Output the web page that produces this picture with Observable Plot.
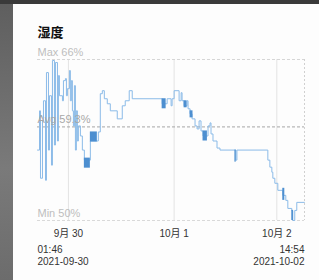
<!DOCTYPE html>
<html>
<head>
<meta charset="utf-8">
<script src="https://cdn.jsdelivr.net/npm/d3@7"></script>
<script src="https://cdn.jsdelivr.net/npm/@observablehq/plot@0.6"></script>
<style>
  html, body { margin: 0; padding: 0; background: #fdfdfd; width: 319px; height: 280px; overflow: hidden; }
  #wrap { position: relative; width: 319px; height: 280px; }
  #side { position: absolute; left: 0; top: 0; width: 13px; height: 280px; background: linear-gradient(#5e5e5e, #7a7a7a 60%, #6c6c6c); }
  #topbar { position: absolute; left: 0; top: 0; width: 319px; height: 4px; background: #3a3a3a; }
  #chart { position: absolute; left: 0; top: 0; }
</style>
</head>
<body>
<div id="wrap"><div id="side"></div><div id="topbar"></div><div id="chart"></div></div>
<script>
// Humidity (%) vs hours since 2021-09-30 01:46
const hours = [0,0.46,0.68,1.14,1.37,1.83,2.05,2.51,2.74,3.2,3.42,3.88,4.11,4.57,4.79,5.02,5.71,5.94,6.39,6.62,6.85,7.31,7.53,7.76,7.99,8.22,8.45,8.68,8.9,9.13,9.36,9.82,10.27,10.73,12.1,13.93,14.38,14.84,15.3,15.98,16.67,18.26,19.41,20.09,21.0,21.69,28.54,29.68,30.59,30.82,31.28,32.42,32.88,33.1,33.56,34.25,34.47,34.93,35.39,36.07,36.53,36.99,37.44,37.9,39.04,39.5,39.73,40.18,41.1,41.78,45.43,45.66,52.74,53.2,53.65,53.88,54.34,55.02,56.16,56.85,57.31,58.22,58.45,58.9,59.36,61.13];
const humidity = [57.0,60.9,54.2,59.9,61.9,54.0,64.7,57.0,62.4,55.5,65.9,57.5,65.7,57.9,64.4,62.4,61.9,63.9,64.1,62.4,63.1,64.9,61.9,63.9,60.9,59.4,63.4,57.0,60.9,57.9,59.4,58.4,57.0,56.0,57.9,58.8,62.6,62.9,62.1,61.6,60.9,60.1,61.4,61.9,62.9,62.1,61.6,62.1,61.4,62.1,62.9,61.9,62.7,61.9,61.4,61.9,61.1,60.6,60.1,59.4,59.1,59.9,58.9,58.4,59.4,59.7,58.6,57.9,57.2,57.0,56.0,57.0,56.0,55.3,54.8,54.2,53.7,53.0,52.5,52.0,51.2,51.0,50.0,51.0,51.8,51.8];

// dense oscillation bursts: start hour, end hour, low %, high %
const burstStart = [10.73, 12.1, 28.54, 33.56, 34.93, 37.9, 45.2, 56.16, 58.22];
const burstEnd   = [12.1, 13.7, 29.45, 34.25, 35.6, 38.9, 45.5, 56.62, 58.6];
const burstLow   = [55.2, 57.8, 61.1, 61.2, 60.2, 57.9, 55.8, 52.0, 50.0];
const burstHigh  = [56.2, 58.8, 62.1, 61.9, 60.9, 58.9, 57.0, 53.2, 51.0];

const maxVal = 66, avgVal = 59.3, minVal = 50;
const tickHours = [7.08, 31.28, 54.79];
const tickLabels = ["9月 30", "10月 1", "10月 2"];
const title = "湿度";
const startTime = "01:46", startDate = "2021-09-30";
const endTime = "14:54", endDate = "2021-10-02";
const spanHours = 61.13;

const data = hours.map((h, i) => ({h, v: humidity[i]}));
const bursts = burstStart.map((s, i) => ({s, e: burstEnd[i], lo: burstLow[i], hi: burstHigh[i]}));
const refs = [
  {v: maxVal, label: `Max ${maxVal}%`, c: "#bdbdbd", line: "#d6d6d6"},
  {v: avgVal, label: `Avg ${avgVal}%`, c: "#a8a8a8", line: "#a6a6a6"},
  {v: minVal, label: `Min ${minVal}%`, c: "#bdbdbd", line: "#d9d9d9"}
];
const font = "Liberation Sans, Helvetica, Arial, Noto Sans CJK SC, sans-serif";

const chart = Plot.plot({
  width: 319, height: 280,
  marginLeft: 37, marginRight: 15, marginTop: 59, marginBottom: 60,
  style: {background: "transparent", fontFamily: font},
  x: {domain: [0, spanHours], axis: null},
  y: {domain: [minVal, maxVal], axis: null},
  marks: [
    Plot.ruleX(tickHours, {stroke: "#e3e3e3", strokeWidth: 1}),
    Plot.ruleX([spanHours], {stroke: "#d0d0d0", strokeDasharray: "2,2"}),
    Plot.ruleY(refs, {y: "v", stroke: "line", strokeDasharray: "3,2"}),
    Plot.line(data, {x: "h", y: "v", curve: "step-after", stroke: "#8bbbe8", strokeWidth: 1}),
    Plot.rect(bursts, {x1: "s", x2: "e", y1: "lo", y2: "hi", fill: "#4d8fd0"}),
    Plot.text(refs, {y: "v", text: "label", frameAnchor: "left", textAnchor: "start", dy: -7, fill: "c", fontSize: 11}),
    Plot.text(tickHours, {x: d => d, text: (d, i) => tickLabels[i], frameAnchor: "bottom", lineAnchor: "middle", dy: 13, fill: "#333", fontSize: 10}),
    Plot.text([title], {frameAnchor: "top-left", lineAnchor: "middle", dy: -27, text: d => d, fontSize: 13, fontWeight: "bold", fill: "#111", fontFamily: "Noto Sans CJK SC, sans-serif"}),
    Plot.text([startTime], {frameAnchor: "bottom-left", lineAnchor: "middle", dy: 29, text: d => d, fill: "#333", fontSize: 10, textAnchor: "start"}),
    Plot.text([startDate], {frameAnchor: "bottom-left", lineAnchor: "middle", dy: 41, text: d => d, fill: "#333", fontSize: 10, textAnchor: "start"}),
    Plot.text([endTime], {frameAnchor: "bottom-right", lineAnchor: "middle", dy: 29, text: d => d, fill: "#333", fontSize: 10, textAnchor: "end"}),
    Plot.text([endDate], {frameAnchor: "bottom-right", lineAnchor: "middle", dy: 41, text: d => d, fill: "#333", fontSize: 10, textAnchor: "end"})
  ]
});
document.getElementById("chart").appendChild(chart);
</script>
</body>
</html>
